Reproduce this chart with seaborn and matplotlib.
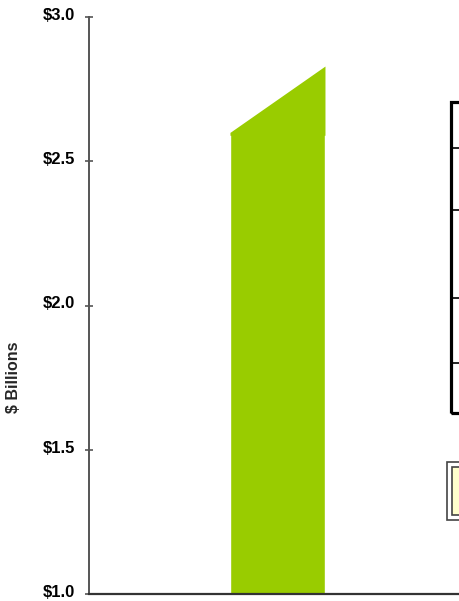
import matplotlib
matplotlib.use("Agg")
import matplotlib.pyplot as plt
import matplotlib.transforms as mtransforms
from matplotlib.patches import Rectangle
from matplotlib.lines import Line2D
import seaborn as sns
import pandas as pd

# Revenue in $ billions: base level and the top of the sloped cap
categories = ["Revenue"]
base_values = [2.60]
cap_start = [2.60]
cap_end = [2.83]

y_ticks = [1.0, 1.5, 2.0, 2.5, 3.0]
y_tick_labels = ["$1.0", "$1.5", "$2.0", "$2.5", "$3.0"]

sns.set_theme(style="white")
plt.rcParams["font.family"] = ["Liberation Sans", "DejaVu Sans"]

W, H = 460, 601
fig = plt.figure(figsize=(W / 100, H / 100), dpi=100)
ax = fig.add_axes([89 / W, 1 - 594 / H, 1.0 - 89 / W, (594 - 17) / H])

green = "#99CC00"
df = pd.DataFrame({"cat": categories, "value": base_values})
sns.barplot(data=df, x="cat", y="value", color=green, saturation=1,
            width=0.8, ax=ax, bottom=0)

# Sloped cap above the bar, overlapping slightly so no seam shows
bar = ax.patches[0]
x0 = bar.get_x()
x1 = x0 + bar.get_width()
ax.fill_between([x0, x1], [cap_start[0], cap_end[0]],
                [base_values[0] - 0.01, base_values[0] - 0.01],
                color=green, linewidth=0)

ax.set_ylim(1.0, 3.0)
ax.set_xlim(-1.587, 1.537)
ax.set_yticks(y_ticks)
ax.set_yticklabels(y_tick_labels, fontsize=12, fontweight="bold")
ax.set_xticks([])
ax.set_xlabel("")
ax.set_ylabel("")
ax.tick_params(axis="y", direction="inout", length=6, width=1.2, color="#555555",
               pad=7, left=True, labelcolor="black")
# Lift the tick labels a few pixels above their ticks
lift = mtransforms.ScaledTranslation(0, 3 / 100, fig.dpi_scale_trans)
for lbl in ax.get_yticklabels():
    lbl.set_transform(lbl.get_transform() + lift)
for side in ["top", "right"]:
    ax.spines[side].set_visible(False)
ax.spines["left"].set_color("#555555")
ax.spines["left"].set_linewidth(1.4)
ax.spines["bottom"].set_color("#333333")
ax.spines["bottom"].set_linewidth(1.6)

fig.text(14 / W, 1 - 377 / H, "$ Billions", rotation=90, ha="center", va="center",
         fontsize=11.5, fontweight="bold")

def fy(py):
    return 1 - py / H

# Data table panel on the right
fig.add_artist(Rectangle((451 / W, fy(413)), 40 / W, (413 - 102) / H,
                         transform=fig.transFigure, fill=False,
                         edgecolor="black", linewidth=2.3, clip_on=False))
for py in [148, 210, 298, 363]:
    fig.add_artist(Line2D([451 / W, 1.0], [fy(py), fy(py)], transform=fig.transFigure,
                          color="black", linewidth=1.2))

# Legend swatch box
fig.add_artist(Rectangle((447 / W, fy(520)), 40 / W, (520 - 462) / H,
                         transform=fig.transFigure, facecolor="white",
                         edgecolor="#444444", linewidth=1.2))
fig.add_artist(Rectangle((452 / W, fy(515)), 40 / W, (515 - 467) / H,
                         transform=fig.transFigure, facecolor="#FFFFCC",
                         edgecolor="#444444", linewidth=1.2))

fig.savefig("out.png", dpi=100)
